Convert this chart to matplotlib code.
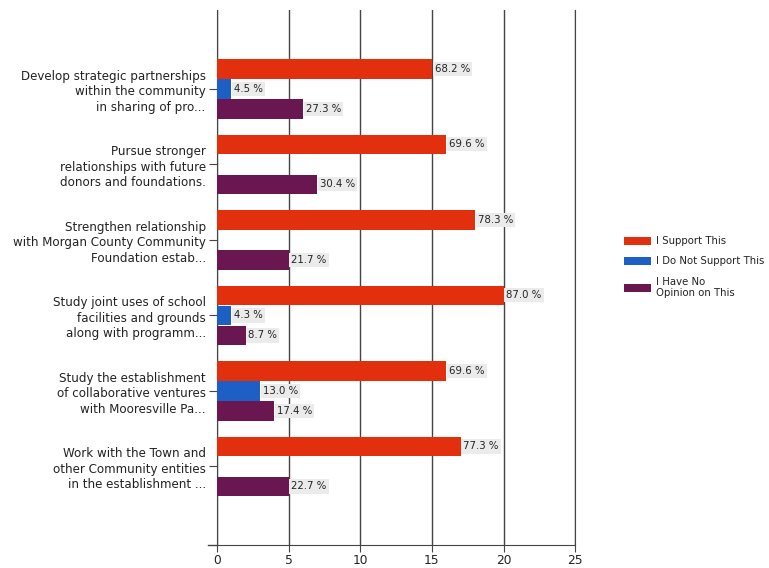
import matplotlib
matplotlib.use('Agg')
import matplotlib.pyplot as plt
import numpy as np

categories = ['Develop strategic partnerships\nwithin the community\nin sharing of pro...',
              'Pursue stronger\nrelationships with future\ndonors and foundations.',
              'Strengthen relationship\nwith Morgan County Community\nFoundation estab...',
              'Study joint uses of school\nfacilities and grounds\nalong with programm...',
              'Study the establishment\nof collaborative ventures\nwith Mooresville Pa...',
              'Work with the Town and\nother Community entities\nin the establishment ...']
series = ['I Support This', 'I Do Not Support This', 'I Have No\nOpinion on This']
support = [15, 16, 18, 20, 16, 17]
not_support = [1, 0, 0, 1, 3, 0]
no_opinion = [6, 7, 5, 2, 4, 5]
support_pct = ['68.2 %', '69.6 %', '78.3 %', '87.0 %', '69.6 %', '77.3 %']
not_support_pct = ['4.5 %', '', '', '4.3 %', '13.0 %', '']
no_opinion_pct = ['27.3 %', '30.4 %', '21.7 %', '8.7 %', '17.4 %', '22.7 %']
colors = ['#e2300f', '#1d5fc4', '#6a1650']

plt.rcParams['font.family'] = 'DejaVu Sans'
fig = plt.figure(figsize=(7.69, 5.68), dpi=100)
ax = fig.add_axes([0.282, 0.0405, 0.466, 0.9415])

y = np.arange(len(categories))
off = 0.265
h = 0.258
for vals, labs, col, d, name in zip([support, not_support, no_opinion],
                                     [support_pct, not_support_pct, no_opinion_pct],
                                     colors, [-off, 0, off], series):
    ax.barh(y + d, vals, height=h, color=col, label=name, zorder=3)
    for yi, v, lab in zip(y, vals, labs):
        if lab:
            ax.text(v + 0.2, yi + d, lab, va='center', ha='left', fontsize=7.3,
                    color='#222222', zorder=4,
                    bbox=dict(facecolor='#ebebeb', edgecolor='none', pad=1.5))

ax.set_xlim(0, 25)
ax.set_ylim(len(categories) - 1 + 1.04, -1.04)
ax.set_xticks([0, 5, 10, 15, 20, 25])
ax.set_yticks(y)
ax.set_yticklabels(categories, fontsize=8.6, linespacing=1.25)
ax.tick_params(axis='x', labelsize=8.8, length=5, pad=1.5, color='#444444', labelcolor='#222222')
ax.tick_params(axis='y', length=6, pad=2, color='#444444', labelcolor='#222222')
ax.xaxis.grid(True, color='#444444', lw=1, zorder=0)
ax.spines['top'].set_visible(False)
ax.spines['right'].set_color('#444444')
ax.spines['left'].set_color('#444444')
ax.spines['bottom'].set_color('#444444')
ax.plot([-0.025, 0], [0, 0], transform=ax.transAxes, clip_on=False, color='#444444', lw=1)

fig.legend(loc='upper left', bbox_to_anchor=(0.8, 0.6), frameon=False, fontsize=7.3,
           labelcolor='#222222', handlelength=2.6, handleheight=0.8, labelspacing=1.0,
           handletextpad=0.5)

plt.savefig('out.png', dpi=100)
